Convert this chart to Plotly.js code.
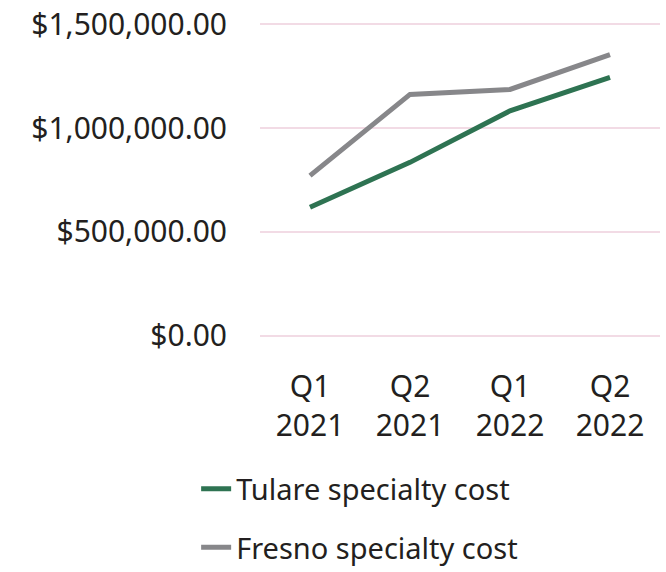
<!DOCTYPE html>
<html>
<head>
<meta charset="utf-8">
<script src="https://cdn.plot.ly/plotly-3.0.1.min.js"></script>
<style>html,body{margin:0;padding:0;background:#fff;}#chart{width:666px;height:572px;}</style>
</head>
<body>
<div id="chart"></div>
<script>
const categories = ["Q1<br>2021", "Q2<br>2021", "Q1<br>2022", "Q2<br>2022"];
const tulareCost = [619000, 835000, 1083000, 1244000];
const fresnoCost = [771000, 1162000, 1186000, 1354000];
const yTickVals = [0, 500000, 1000000, 1500000];
const yTickText = ["$0.00", "$500,000.00", "$1,000,000.00", "$1,500,000.00"];

const textColor = "#231f20";
const fontFam = "'Noto Sans', 'Open Sans', sans-serif";

const traces = [
  {x: categories, y: tulareCost, type: "scatter", mode: "lines", name: "Tulare specialty cost",
   legendgroup: "a", line: {color: "#2e7352", width: 5}},
  {x: categories, y: fresnoCost, type: "scatter", mode: "lines", name: "Fresno specialty cost",
   legendgroup: "b", line: {color: "#87878a", width: 5}}
];

const layout = {
  width: 666, height: 572,
  margin: {l: 260, r: 6, t: 18, b: 230, autoexpand: false},
  paper_bgcolor: "#fff", plot_bgcolor: "#fff",
  font: {family: fontFam, size: 30, color: textColor},
  xaxis: {type: "category", range: [-0.5, 3.5], showgrid: false, zeroline: false, showline: false,
          ticks: "", automargin: false, tickfont: {size: 30, color: textColor}, ticklabelstandoff: 24},
  yaxis: {range: [-30000, 1530000], tickvals: yTickVals, ticktext: yTickText, showgrid: true,
          gridcolor: "#f2dbe5", gridwidth: 2, zeroline: false, showline: false, ticks: "", automargin: false,
          tickfont: {size: 30, color: textColor}, ticklabelstandoff: 32},
  showlegend: true,
  legend: {orientation: "v", xref: "container", yref: "container", x: 0.2945, xanchor: "left",
           y: 0.19, yanchor: "top",
           traceorder: "grouped", tracegroupgap: 18, font: {size: 29, color: textColor},
           bgcolor: "rgba(0,0,0,0)"}
};

Plotly.newPlot("chart", traces, layout, {displayModeBar: false, staticPlot: true});
</script>
</body>
</html>
